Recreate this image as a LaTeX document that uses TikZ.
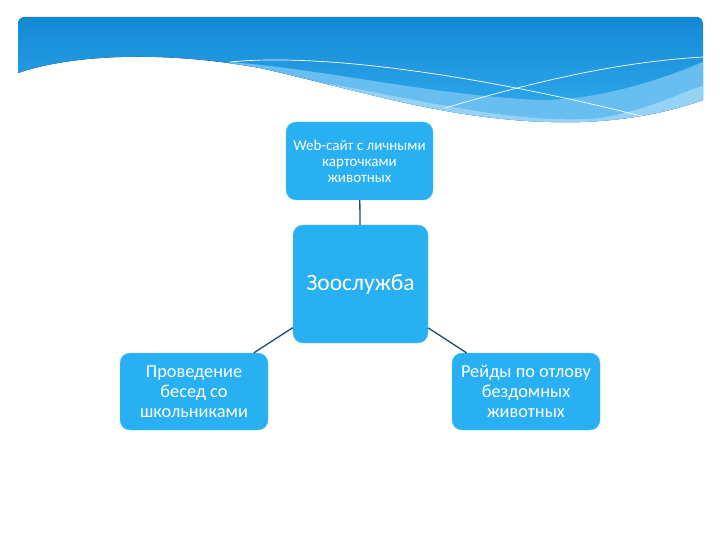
\documentclass[tikz,border=0pt]{standalone}
\usepackage{fontspec}
\setmainfont{Carlito}
\usetikzlibrary{positioning}
\definecolor{boxblue}{RGB}{40,176,242}
\definecolor{linkblue}{RGB}{34,72,118}
\definecolor{bandtop}{RGB}{20,136,214}
\definecolor{bandbot}{RGB}{52,174,238}
\definecolor{wavemid}{RGB}{104,190,240}
\definecolor{wavelight}{RGB}{150,210,246}

\begin{document}
\begin{tikzpicture}[x=1pt,y=-1pt,
    box/.style={draw=boxblue!75!white, fill=boxblue, rounded corners=10pt,
      text=white, align=center, inner sep=2pt},
    link/.style={draw=linkblue, line width=1.3pt}]
  \useasboundingbox (0,0) rectangle (720,540);

  % header band
  \begin{scope}
    \clip[rounded corners=7pt] (18,17) rectangle (703,200);
    \clip (18,0) -- (703,0) -- (703,100)
      .. controls (680,108) and (640,120) .. (580,122)
      .. controls (460,125) and (360,90) .. (260,68)
      .. controls (160,50) and (70,55) .. (18,73) -- cycle;
    \fill[top color=bandtop, bottom color=bandbot] (18,17) rectangle (703,130);
    \fill[wavemid] (230,62) .. controls (330,70) and (430,95) .. (540,100)
      .. controls (600,100) and (660,80) .. (703,62) -- (703,130) -- (230,130) -- cycle;
    \fill[wavelight] (330,84) .. controls (430,102) and (520,125) .. (600,118)
      .. controls (650,110) and (680,92) .. (703,86) -- (703,130) -- (330,130) -- cycle;
    \draw[white, line width=0.7pt] (230,62) .. controls (330,52) and (500,80) .. (645,117);
    \draw[white, line width=0.7pt] (445,108) .. controls (540,80) and (620,62) .. (703,57);
  \end{scope}

  % nodes
  \node[box, minimum width=135pt, minimum height=118pt, font=\fontsize{23.5}{27}\selectfont]
    (zoo) at (360.5,284) {Зоослужба};
  \node[box, minimum width=147pt, minimum height=78pt, font=\fontsize{15}{16}\selectfont]
    (web) at (359.5,161) {Web-сайт с личными\\карточками\\животных};
  \node[box, minimum width=148pt, minimum height=77pt, font=\fontsize{18.3}{20}\selectfont]
    (talks) at (194,391.5) {Проведение\\бесед со\\школьниками};
  \node[box, minimum width=148pt, minimum height=77pt, font=\fontsize{18.3}{20}\selectfont]
    (raids) at (526,391.5) {Рейды по отлову\\бездомных\\животных};

  % links
  \foreach \n in {web,talks,raids}
    \draw[link] (zoo) -- (\n);
\end{tikzpicture}
\end{document}
